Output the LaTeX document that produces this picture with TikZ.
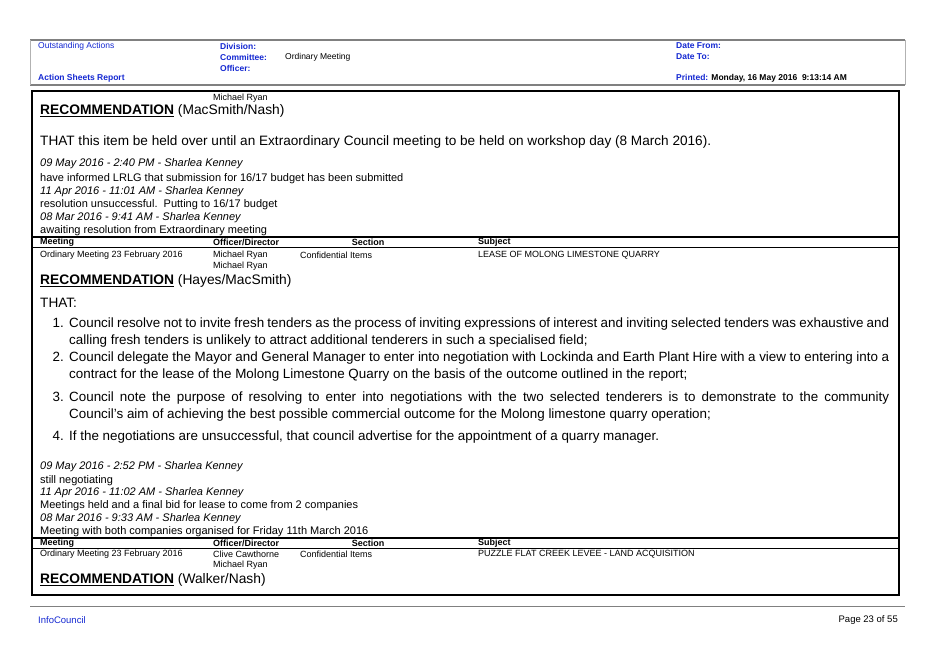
\documentclass[tikz,border=0pt]{standalone}
\usepackage{fontspec}
\setmainfont{Liberation Sans}
\begin{document}
\begin{tikzpicture}[x=1pt,y=-1pt,
  hd/.style={anchor=west,inner sep=0,font=\fontsize{8.5}{9}\selectfont\bfseries,text=hblue},
  hv/.style={anchor=west,inner sep=0,font=\fontsize{8.5}{9}\selectfont},
  sm/.style={anchor=west,inner sep=0,font=\fontsize{9}{10}\selectfont},
  smb/.style={anchor=west,inner sep=0,font=\fontsize{9}{10}\selectfont\bfseries},
  nt/.style={anchor=west,inner sep=0,font=\fontsize{11}{12}\selectfont},
  nti/.style={anchor=west,inner sep=0,font=\fontsize{11}{12}\selectfont\itshape},
  rec/.style={anchor=west,inner sep=0,font=\fontsize{13.8}{15}\selectfont},
  bd/.style={anchor=west,inner sep=0,font=\fontsize{13.6}{15}\selectfont},
  item/.style={anchor=north west,inner sep=0,text width=820pt,align=justify,font=\fontsize{13.4}{17}\selectfont},
  num/.style={anchor=north east,inner sep=0,font=\fontsize{13.4}{17}\selectfont}]
\definecolor{hblue}{RGB}{20,40,210}
\useasboundingbox (0,0) rectangle (939,664);
\fill[white] (0,0) rectangle (939,664);
% header
\draw[gray,line width=1.2pt] (30,40) -- (905,40);
\draw[gray,line width=1.2pt] (30,85) -- (905,85);
\draw[gray!60] (30,40) -- (30,85) (905,40) -- (905,85);
\node[hv,text=hblue] (oa) at (38,46) {Outstanding Actions};
\node[hd] (dv) at (220,46) {Division:};
\node[hd] (cm) at (220,57) {Committee:};
\node[hd] (of) at (220,68) {Officer:};
\node[hv] (om) at (285,57) {Ordinary Meeting};
\node[hd] (df) at (676,46) {Date From:};
\node[hd] (dt) at (676,57) {Date To:};
\node[hd] (asr) at (38,78) {Action Sheets Report};
\node[hd] (pr) at (676,78) {Printed: \textcolor{black}{Monday, 16 May 2016\ \ 9:13:14 AM}};
% main box
\draw[line width=1.5pt] (32,91) rectangle (899,595);
\node[sm] (mr0) at (213,98) {Michael Ryan};
\node[rec] (r1) at (40,111) {\underline{\textbf{RECOMMENDATION}} (MacSmith/Nash)};
\node[bd] (t1) at (40,142) {THAT this item be held over until an Extraordinary Council meeting to be held on workshop day (8 March 2016).};
\node[nti] (n1) at (40,164) {09 May 2016 - 2:40 PM - Sharlea Kenney};
\node[nt] (n2) at (40,179) {have informed LRLG that submission for 16/17 budget has been submitted};
\node[nti] (n3) at (40,192) {11 Apr 2016 - 11:01 AM - Sharlea Kenney};
\node[nt] (n4) at (40,205) {resolution unsuccessful.\ \ Putting to 16/17 budget};
\node[nti] (n5) at (40,218) {08 Mar 2016 - 9:41 AM - Sharlea Kenney};
\node[nt] (n6) at (40,231) {awaiting resolution from Extraordinary meeting};
\draw[line width=1.2pt] (32,237) -- (899,237) (32,247.5) -- (899,247.5);
\node[smb] (h1) at (40,242.5) {Meeting};
\node[smb] (h2) at (213,242.5) {Officer/Director};
\node[smb,anchor=center] (h3) at (368,242.5) {Section};
\node[smb] (h4) at (478,242.5) {Subject};
\node[sm] (a1) at (40,255) {Ordinary Meeting 23 February 2016};
\node[sm] (a2) at (213,255) {Michael Ryan};
\node[sm] (a2b) at (213,266) {Michael Ryan};
\node[sm] (a3) at (300,255) {Confidential Items};
\node[sm] (a4) at (478,255) {LEASE OF MOLONG LIMESTONE QUARRY};
\node[rec] (r2) at (40,281) {\underline{\textbf{RECOMMENDATION}} (Hayes/MacSmith)};
\node[bd] (th) at (40,303) {THAT:};
\node[num] (k1) at (64,318) {1.};
\node[item] (i1) at (69,318) {Council resolve not to invite fresh tenders as the process of inviting expressions of interest and inviting selected tenders was exhaustive and calling fresh tenders is unlikely to attract additional tenderers in such a specialised field;};
\node[num] (k2) at (64,352) {2.};
\node[item] (i2) at (69,352) {Council delegate the Mayor and General Manager to enter into negotiation with Lockinda and Earth Plant Hire with a view to entering into a contract for the lease of the Molong Limestone Quarry on the basis of the outcome outlined in the report;};
\node[num] (k3) at (64,392) {3.};
\node[item] (i3) at (69,392) {Council note the purpose of resolving to enter into negotiations with the two selected tenderers is to demonstrate to the community\linebreak Council’s aim of achieving the best possible commercial outcome for the Molong limestone quarry operation;};
\node[num] (k4) at (64,431) {4.};
\node[item] (i4) at (69,431) {If the negotiations are unsuccessful, that council advertise for the appointment of a quarry manager.};
\node[nti] (m1) at (40,467) {09 May 2016 - 2:52 PM - Sharlea Kenney};
\node[nt] (m2) at (40,481) {still negotiating};
\node[nti] (m3) at (40,493) {11 Apr 2016 - 11:02 AM - Sharlea Kenney};
\node[nt] (m4) at (40,506) {Meetings held and a final bid for lease to come from 2 companies};
\node[nti] (m5) at (40,519) {08 Mar 2016 - 9:33 AM - Sharlea Kenney};
\node[nt] (m6) at (40,532) {Meeting with both companies organised for Friday 11th March 2016};
\draw[line width=1.2pt] (32,538) -- (899,538) (32,548.5) -- (899,548.5);
\node[smb] (g1) at (40,543.5) {Meeting};
\node[smb] (g2) at (213,543.5) {Officer/Director};
\node[smb,anchor=center] (g3) at (368,543.5) {Section};
\node[smb] (g4) at (478,543.5) {Subject};
\node[sm] (b1) at (40,554) {Ordinary Meeting 23 February 2016};
\node[sm] (b2) at (213,554) {Clive Cawthorne};
\node[sm] (b2b) at (213,565) {Michael Ryan};
\node[sm] (b3) at (300,554) {Confidential Items};
\node[sm] (b4) at (478,554) {PUZZLE FLAT CREEK LEVEE - LAND ACQUISITION};
\node[rec] (r3) at (40,580) {\underline{\textbf{RECOMMENDATION}} (Walker/Nash)};
% footer
\draw[gray,line width=1pt] (30,606) -- (905,606);
\node[hv,text=hblue,font=\fontsize{9.5}{10}\selectfont] (ic) at (38,620) {InfoCouncil};
\node[hv,anchor=east,font=\fontsize{9.5}{10}\selectfont] (pg) at (898,620) {Page 23 of 55};
\end{tikzpicture}
\end{document}
